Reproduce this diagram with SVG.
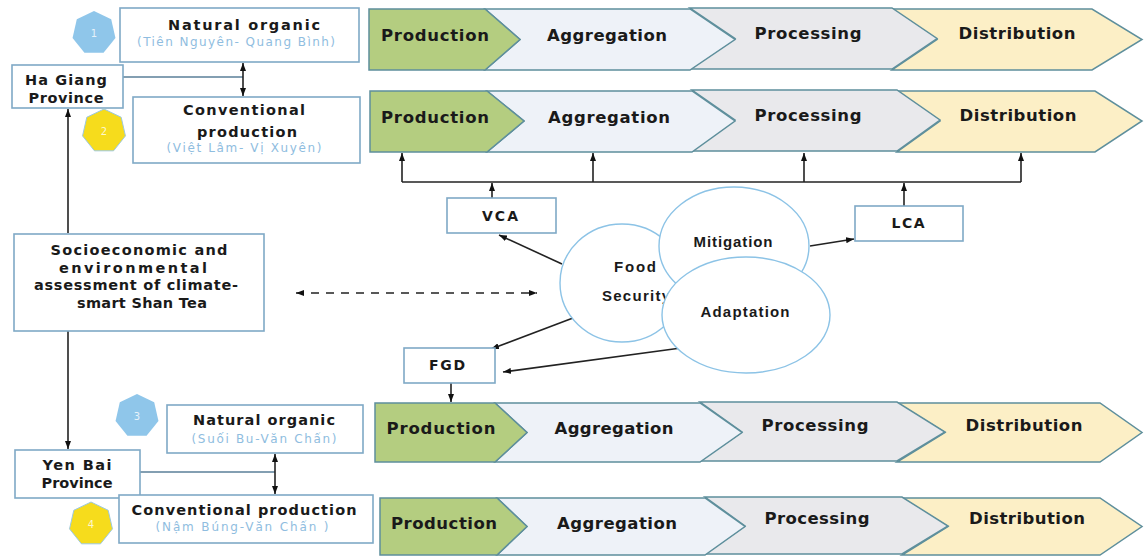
<svg xmlns="http://www.w3.org/2000/svg" width="1144" height="557" viewBox="0 0 1144 557">
<style>
.box{fill:#fff;stroke:#7fa9c6;stroke-width:1.6}
.prod{fill:#b4cd80;stroke:#5e8f9c;stroke-width:1.5}
.agg{fill:#eef2f8;stroke:#5e8f9c;stroke-width:1.5}
.proc{fill:#e9e9ec;stroke:#5e8f9c;stroke-width:1.5}
.dist{fill:#fcefc6;stroke:#5e8f9c;stroke-width:1.5}
.ct{font-family:"DejaVu Sans",Verdana,sans-serif;font-weight:bold;font-size:16.5px;fill:#1a1a1a;text-anchor:middle}
.bt{font-family:"DejaVu Sans",Verdana,sans-serif;font-weight:bold;font-size:14.5px;fill:#1a1a1a;text-anchor:middle}
.bs{font-family:"DejaVu Sans",Verdana,sans-serif;font-weight:bold;font-size:14px;fill:#1a1a1a;text-anchor:middle}
.st{font-family:"DejaVu Sans",Verdana,sans-serif;font-size:12px;fill:#8fbde0;text-anchor:middle}
.et{font-family:"Liberation Sans",Arial,sans-serif;font-weight:bold;font-size:15px;fill:#1a1a1a;text-anchor:middle}
.circ{fill:#fff;stroke:#8cc3e6;stroke-width:1.4}
.num{font-family:"DejaVu Sans",sans-serif;font-size:10px;fill:#fff;fill-opacity:0.8;text-anchor:middle}
.ln{fill:none;stroke:#222;stroke-width:1.6}
.lnb{fill:none;stroke:#5a7f99;stroke-width:1.6}
</style>
<defs>
<marker id="ah" viewBox="0 0 8 6" refX="8" refY="3" markerWidth="8" markerHeight="6" markerUnits="userSpaceOnUse" orient="auto-start-reverse">
<path d="M0,0 L8,3 L0,6 z" fill="#111"/>
</marker>
<polygon id="hept" points="0,-22 17.2,-13.72 21.45,4.9 9.55,19.82 -9.55,19.82 -21.45,4.9 -17.2,-13.72"/>
</defs>
<rect width="1144" height="557" fill="#fff"/>

<!-- Row 1 chain -->
<g id="row1">
<polygon class="dist" points="892,9 1092,9 1142,39.5 1092,70 892,70 937,39.5"/>
<polygon class="proc" points="690,8 892,8 937,38.5 892,69 690,69 735,38.5"/>
<polygon class="agg" points="485,9 690,9 735,39.5 690,70 485,70 520,39.5"/>
<polygon class="prod" points="369,9 485,9 520,39.5 485,70 369,70"/>
<text class="ct" x="435" y="41" textLength="108" lengthAdjust="spacing">Production</text>
<text class="ct" x="607" y="41" textLength="120" lengthAdjust="spacing">Aggregation</text>
<text class="ct" x="808" y="39" textLength="107" lengthAdjust="spacing">Processing</text>
<text class="ct" x="1017" y="39" textLength="117" lengthAdjust="spacing">Distribution</text>
</g>

<!-- Row 2 chain -->
<g id="row2">
<polygon class="dist" points="897,91 1095,91 1142,121 1095,152 897,152 940,121"/>
<polygon class="proc" points="692,90 897,90 940,120 897,151 692,151 735,120"/>
<polygon class="agg" points="487,91 692,91 735,121 692,152 487,152 524,121"/>
<polygon class="prod" points="370,91 487,91 524,121 487,152 370,152"/>
<text class="ct" x="435" y="123" textLength="108" lengthAdjust="spacing">Production</text>
<text class="ct" x="609" y="123" textLength="122" lengthAdjust="spacing">Aggregation</text>
<text class="ct" x="808" y="121" textLength="107" lengthAdjust="spacing">Processing</text>
<text class="ct" x="1018" y="121" textLength="117" lengthAdjust="spacing">Distribution</text>
</g>

<!-- Row 3 chain -->
<g id="row3">
<polygon class="dist" points="897,403 1100,403 1142,432.5 1100,462 897,462 945,432.5"/>
<polygon class="proc" points="700,402 897,402 945,432 897,461 700,461 742,432"/>
<polygon class="agg" points="495,403 700,403 742,432.5 700,462 495,462 527,432.5"/>
<polygon class="prod" points="375,403 495,403 527,432.5 495,462 375,462"/>
<text class="ct" x="441" y="434" textLength="109" lengthAdjust="spacing">Production</text>
<text class="ct" x="614" y="434" textLength="119" lengthAdjust="spacing">Aggregation</text>
<text class="ct" x="815" y="431" textLength="107" lengthAdjust="spacing">Processing</text>
<text class="ct" x="1024" y="431" textLength="117" lengthAdjust="spacing">Distribution</text>
</g>

<!-- Row 4 chain -->
<g id="row4">
<polygon class="dist" points="902,498 1100,498 1142,526.5 1100,555 902,555 948,526.5"/>
<polygon class="proc" points="705,497 902,497 948,526 902,554 705,554 745,526"/>
<polygon class="agg" points="497,498 705,498 745,526.5 705,555 497,555 527,526.5"/>
<polygon class="prod" points="380,498 497,498 527,526.5 497,555 380,555"/>
<text class="ct" x="444" y="529" textLength="106" lengthAdjust="spacing">Production</text>
<text class="ct" x="617" y="529" textLength="120" lengthAdjust="spacing">Aggregation</text>
<text class="ct" x="817" y="524" textLength="105" lengthAdjust="spacing">Processing</text>
<text class="ct" x="1027" y="524" textLength="116" lengthAdjust="spacing">Distribution</text>
</g>

<!-- Connectors -->
<g id="connectors">
<line class="lnb" x1="123" y1="77" x2="243" y2="77"/>
<line class="ln" x1="243" y1="63" x2="243" y2="96" marker-start="url(#ah)" marker-end="url(#ah)"/>
<line class="ln" x1="68" y1="233" x2="68" y2="109" marker-end="url(#ah)"/>
<line class="ln" x1="68" y1="331" x2="68" y2="449" marker-end="url(#ah)"/>
<line class="lnb" x1="140" y1="472" x2="275" y2="472"/>
<line class="ln" x1="275" y1="454" x2="275" y2="494" marker-start="url(#ah)" marker-end="url(#ah)"/>
<line class="ln" x1="296" y1="293" x2="537" y2="293" stroke-dasharray="8,7" marker-start="url(#ah)" marker-end="url(#ah)"/>
<line class="ln" x1="402" y1="182" x2="1021" y2="182"/>
<line class="ln" x1="402" y1="182" x2="402" y2="153" marker-end="url(#ah)"/>
<line class="ln" x1="593" y1="182" x2="593" y2="153" marker-end="url(#ah)"/>
<line class="ln" x1="804" y1="182" x2="804" y2="153" marker-end="url(#ah)"/>
<line class="ln" x1="1021" y1="182" x2="1021" y2="153" marker-end="url(#ah)"/>
<line class="ln" x1="492" y1="198" x2="492" y2="183" marker-end="url(#ah)"/>
<line class="ln" x1="904" y1="206" x2="904" y2="183" marker-end="url(#ah)"/>
<line class="ln" x1="562" y1="264" x2="499" y2="235" marker-end="url(#ah)"/>
<line class="ln" x1="573" y1="318" x2="491" y2="349" marker-end="url(#ah)"/>
<line class="ln" x1="681" y1="348" x2="503" y2="372" marker-end="url(#ah)"/>
<line class="ln" x1="810" y1="246" x2="854" y2="239" marker-end="url(#ah)"/>
<line class="ln" x1="451" y1="383" x2="451" y2="402" marker-end="url(#ah)"/>
</g>

<!-- Ha Giang side -->
<g id="natural-organic-1">
<rect class="box" x="120" y="8" width="239" height="54"/>
<text class="bt" x="244" y="30" textLength="152" lengthAdjust="spacing">Natural organic</text>
<text class="st" x="236" y="46" textLength="198" lengthAdjust="spacing">(Tiên Nguyên- Quang Bình)</text>
</g>
<g id="badge-1">
<use href="#hept" x="94" y="33" fill="#8fc6ea"/>
<text class="num" x="94" y="37">1</text>
</g>
<g id="ha-giang">
<rect class="box" x="12" y="65" width="111" height="43"/>
<text class="bt" x="66" y="85" textLength="82" lengthAdjust="spacing">Ha Giang</text>
<text class="bt" x="66" y="103" textLength="75" lengthAdjust="spacing">Province</text>
</g>
<g id="conventional-2">
<rect class="box" x="133" y="97" width="227" height="66"/>
<text class="bt" x="244" y="115" textLength="122" lengthAdjust="spacing">Conventional</text>
<text class="bt" x="247" y="137" textLength="100" lengthAdjust="spacing">production</text>
<text class="st" x="244" y="152" textLength="155" lengthAdjust="spacing">(Việt Lâm- Vị Xuyên)</text>
</g>
<g id="badge-2">
<use href="#hept" x="104" y="131" fill="#f6dc1c" stroke="#9cc8e0" stroke-width="1"/>
<text class="num" x="104" y="135">2</text>
</g>

<!-- Central assessment -->
<g id="socioeconomic">
<rect class="box" x="14" y="234" width="250" height="97"/>
<text class="bt" x="139" y="255" textLength="177" lengthAdjust="spacing">Socioeconomic and</text>
<text class="bt" x="133" y="273" textLength="148" lengthAdjust="spacing">environmental</text>
<text class="bt" x="136" y="290" textLength="204" lengthAdjust="spacing">assessment of climate-</text>
<text class="bt" x="142" y="308" textLength="130" lengthAdjust="spacing">smart Shan Tea</text>
</g>
<g id="vca">
<rect class="box" x="447" y="198" width="109" height="35"/>
<text class="bs" x="500" y="221" textLength="36" lengthAdjust="spacing">VCA</text>
</g>
<g id="lca">
<rect class="box" x="855" y="206" width="108" height="35"/>
<text class="bs" x="908" y="228" textLength="33" lengthAdjust="spacing">LCA</text>
</g>
<g id="fgd">
<rect class="box" x="404" y="348" width="91" height="35"/>
<text class="bs" x="447" y="370" textLength="36" lengthAdjust="spacing">FGD</text>
</g>
<g id="food-security">
<ellipse class="circ" cx="622" cy="283" rx="62" ry="59"/>
<text class="et" x="635" y="272" textLength="42" lengthAdjust="spacing">Food</text>
<text class="et" x="636" y="301" textLength="68" lengthAdjust="spacing">Security</text>
</g>
<g id="mitigation">
<ellipse class="circ" cx="734" cy="246" rx="75" ry="59"/>
<text class="et" x="733" y="247" textLength="79" lengthAdjust="spacing">Mitigation</text>
</g>
<g id="adaptation">
<ellipse class="circ" cx="746" cy="315" rx="84" ry="58"/>
<text class="et" x="745" y="317" textLength="89" lengthAdjust="spacing">Adaptation</text>
</g>

<!-- Yen Bai side -->
<g id="natural-organic-3">
<rect class="box" x="167" y="405" width="196" height="48"/>
<text class="bt" x="264" y="425" textLength="142" lengthAdjust="spacing">Natural organic</text>
<text class="st" x="264" y="443" textLength="145" lengthAdjust="spacing">(Suối Bu-Văn Chấn)</text>
</g>
<g id="badge-3">
<use href="#hept" x="137" y="416" fill="#8fc6ea"/>
<text class="num" x="137" y="420">3</text>
</g>
<g id="yen-bai">
<rect class="box" x="15" y="450" width="125" height="48"/>
<text class="bt" x="77" y="470" textLength="69" lengthAdjust="spacing">Yen Bai</text>
<text class="bt" x="77" y="488" textLength="71" lengthAdjust="spacing">Province</text>
</g>
<g id="conventional-4">
<rect class="box" x="119" y="495" width="254" height="48"/>
<text class="bt" x="244" y="515" textLength="225" lengthAdjust="spacing">Conventional production</text>
<text class="st" x="242" y="531" textLength="173" lengthAdjust="spacing">(Nậm Búng-Văn Chấn )</text>
</g>
<g id="badge-4">
<use href="#hept" x="91" y="524" fill="#f6dc1c" stroke="#9cc8e0" stroke-width="1"/>
<text class="num" x="91" y="528">4</text>
</g>
</svg>
